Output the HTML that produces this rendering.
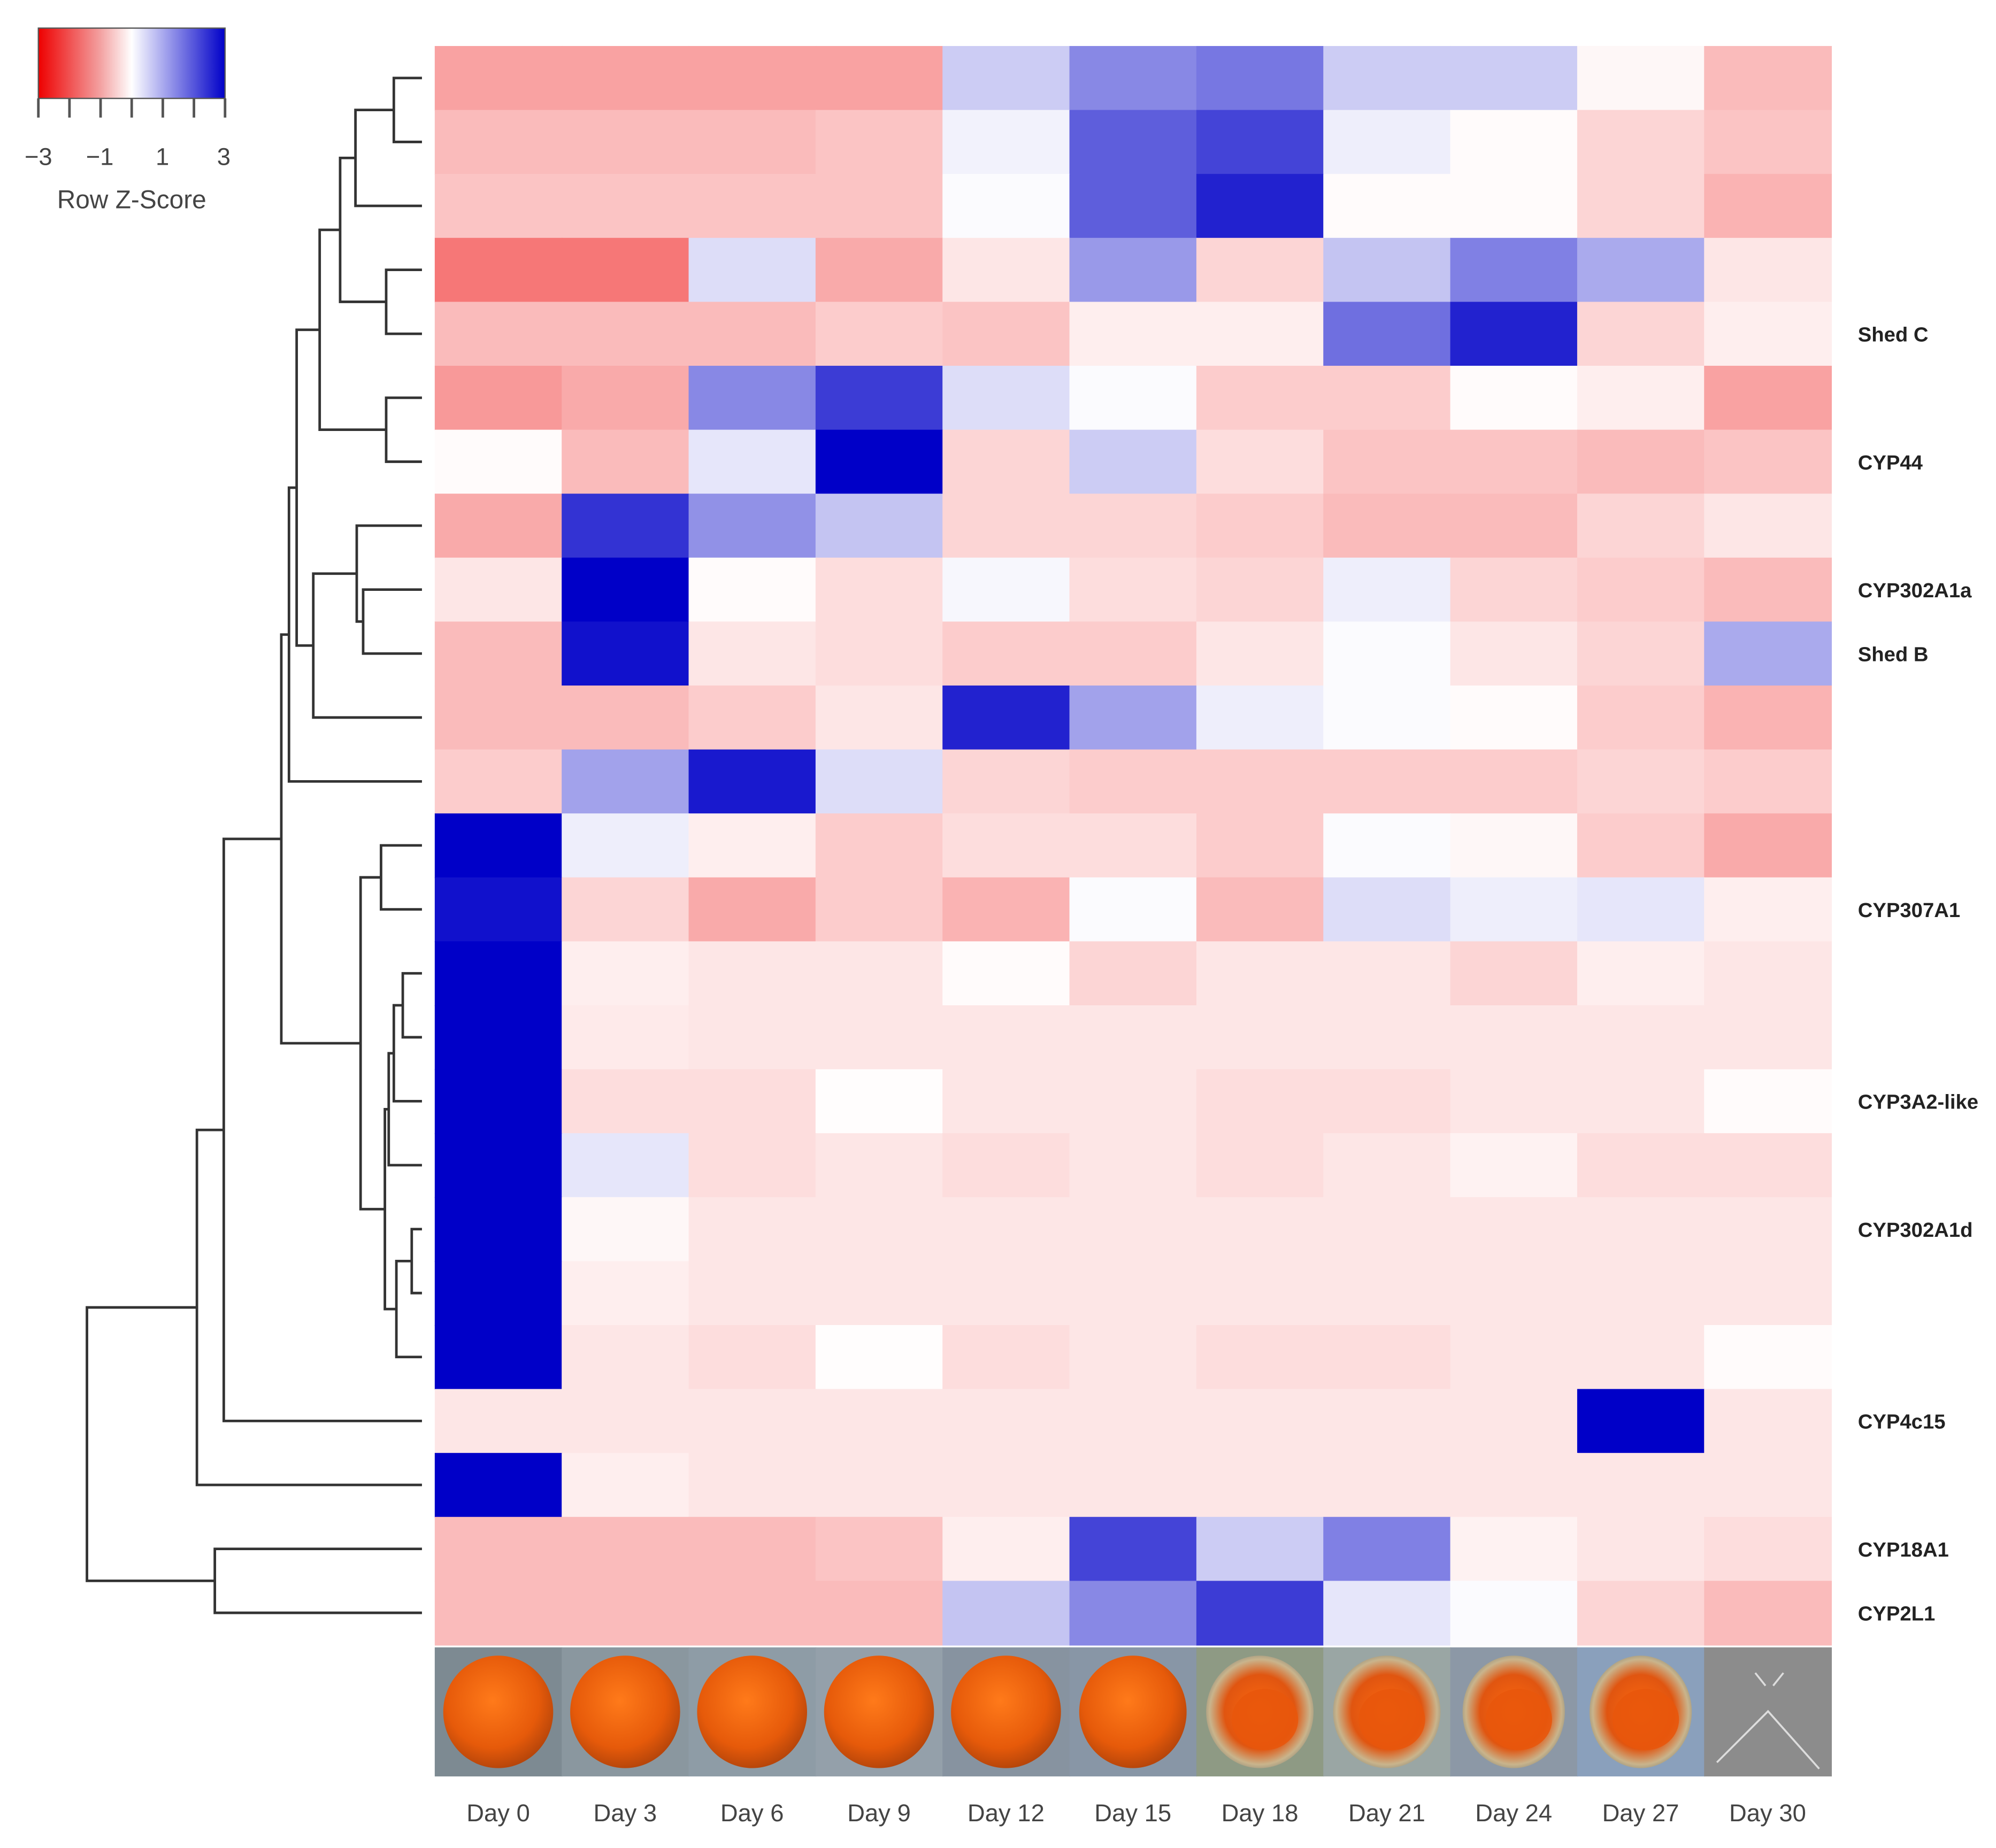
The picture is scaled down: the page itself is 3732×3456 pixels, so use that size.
<!DOCTYPE html>
<html><head><meta charset="utf-8">
<style>
html,body{margin:0;padding:0;background:#fff;}
svg{display:block;}
</style></head>
<body>
<svg id="chart" xmlns="http://www.w3.org/2000/svg" width="3732" height="3456" viewBox="0 0 1561 1446" preserveAspectRatio="none">
<defs>
<linearGradient id="zgrad" x1="0" x2="1" y1="0" y2="0">
<stop offset="0" stop-color="#ee0000"/>
<stop offset="0.33" stop-color="#f3a0a0"/>
<stop offset="0.5" stop-color="#ffffff"/>
<stop offset="0.67" stop-color="#a8a8ee"/>
<stop offset="1" stop-color="#0000c8"/>
</linearGradient>
<radialGradient id="egg" cx="0.45" cy="0.4" r="0.6">
<stop offset="0" stop-color="#ff7a1a"/>
<stop offset="0.7" stop-color="#e65a0a"/>
<stop offset="1" stop-color="#b8460a"/>
</radialGradient>
<radialGradient id="egg2" cx="0.5" cy="0.5" r="0.55">
<stop offset="0" stop-color="#ff6a10"/>
<stop offset="0.6" stop-color="#e05510"/>
<stop offset="0.85" stop-color="#c9b48c"/>
<stop offset="1" stop-color="#8a8a7a"/>
</radialGradient>
</defs>
<g id="legend">
<rect x="30" y="22" width="146" height="55" fill="url(#zgrad)" stroke="#555" stroke-width="1"/>
<g id="legticks" stroke="#555" stroke-width="2"></g>
<g font-family="Liberation Sans, sans-serif" font-size="19" fill="#444" text-anchor="middle">
<text x="30" y="129">−3</text>
<text x="78" y="129">−1</text>
<text x="127" y="129">1</text>
<text x="175" y="129">3</text>
<text x="103" y="163" font-size="20">Row Z-Score</text>
</g>
</g>
<g id="cells"></g>
<g id="dendro" stroke="#333" stroke-width="2" fill="none"></g>
<g id="photos"></g>
<g id="daylabels" font-family="Liberation Sans, sans-serif" font-size="19" fill="#444" text-anchor="middle"></g>
<g id="genelabels" font-family="Liberation Sans, sans-serif" font-size="16" font-weight="bold" fill="#222"></g>
</svg>
<script>
const days = ["Day 0","Day 3","Day 6","Day 9","Day 12","Day 15","Day 18","Day 21","Day 24","Day 27","Day 30"];
const geneLabels = ["","","","","Shed C","","CYP44","","CYP302A1a","Shed B","","","","CYP307A1","","","CYP3A2-like","","CYP302A1d","","","CYP4c15","","CYP18A1","CYP2L1"];
const zRows = [
[-1.1,-1.1,-1.1,-1.1,0.6,1.4,1.6,0.6,0.6,-0.1,-0.8],
[-0.8,-0.8,-0.8,-0.7,0.15,1.9,2.2,0.2,-0.05,-0.5,-0.7],
[-0.7,-0.7,-0.7,-0.7,0.05,1.9,2.6,-0.05,-0.05,-0.5,-0.9],
[-1.6,-1.6,0.4,-1.0,-0.3,1.2,-0.5,0.7,1.5,1.0,-0.3],
[-0.8,-0.8,-0.8,-0.6,-0.7,-0.2,-0.2,1.7,2.6,-0.5,-0.2],
[-1.2,-1.0,1.4,2.3,0.4,0.05,-0.6,-0.6,-0.05,-0.2,-1.1],
[-0.05,-0.8,0.3,3.0,-0.5,0.6,-0.4,-0.7,-0.7,-0.8,-0.7],
[-1.0,2.4,1.3,0.7,-0.5,-0.5,-0.6,-0.8,-0.8,-0.5,-0.3],
[-0.3,3.0,-0.05,-0.4,0.1,-0.4,-0.5,0.2,-0.5,-0.6,-0.8],
[-0.8,2.8,-0.3,-0.4,-0.6,-0.6,-0.3,0.05,-0.3,-0.5,1.0],
[-0.8,-0.8,-0.6,-0.3,2.6,1.1,0.2,0.05,-0.05,-0.6,-0.9],
[-0.6,1.1,2.7,0.4,-0.5,-0.6,-0.6,-0.6,-0.6,-0.5,-0.6],
[3.0,0.2,-0.2,-0.6,-0.4,-0.4,-0.6,0.05,-0.1,-0.6,-1.0],
[2.8,-0.5,-1.0,-0.6,-0.9,0.05,-0.8,0.4,0.2,0.3,-0.2],
[3.0,-0.2,-0.3,-0.3,-0.05,-0.5,-0.3,-0.3,-0.5,-0.2,-0.3],
[3.0,-0.25,-0.3,-0.3,-0.3,-0.3,-0.3,-0.3,-0.3,-0.3,-0.3],
[3.0,-0.4,-0.4,-0.02,-0.3,-0.3,-0.4,-0.4,-0.3,-0.3,-0.05],
[3.0,0.3,-0.4,-0.3,-0.4,-0.3,-0.4,-0.3,-0.15,-0.4,-0.4],
[3.0,-0.1,-0.3,-0.3,-0.3,-0.3,-0.3,-0.3,-0.3,-0.3,-0.3],
[3.0,-0.2,-0.3,-0.3,-0.3,-0.3,-0.3,-0.3,-0.3,-0.3,-0.3],
[3.0,-0.3,-0.4,-0.02,-0.4,-0.3,-0.4,-0.4,-0.3,-0.3,-0.05],
[-0.3,-0.3,-0.3,-0.3,-0.3,-0.3,-0.3,-0.3,-0.3,3.0,-0.3],
[3.0,-0.2,-0.3,-0.3,-0.3,-0.3,-0.3,-0.3,-0.3,-0.3,-0.3],
[-0.8,-0.8,-0.8,-0.7,-0.2,2.2,0.6,1.5,-0.15,-0.3,-0.4],
[-0.8,-0.8,-0.8,-0.8,0.7,1.4,2.3,0.3,0.05,-0.5,-0.8]
];
// dendrogram merges: [left, right, height(x)]; leaves are row indices, nodes referenced as "n<k>"
const merges = [
[0,1,308],["n0",2,278],[3,4,302],["n1","n2",266],[5,6,302],["n3","n4",250],
[8,9,284],[7,"n6",279],["n7",10,245],["n5","n8",232],["n9",11,226],
[12,13,298],[14,15,315],["n12",16,308],["n13",17,304],[18,19,322],["n15",20,310],["n14","n16",301],
["n11","n17",282],["n10","n18",220],["n19",21,175],["n20",22,154],
[23,24,168],["n21","n22",68]
];
const HX0=340, HX1=1432, HY0=36, HY1=1287;
const nCols=days.length, nRows=zRows.length;
const cw=(HX1-HX0)/nCols, rh=(HY1-HY0)/nRows;
function xCol(i){return HX0+i*cw;}
function yRow(i){return HY0+i*rh;}
function zColor(z){
  const t=Math.min(Math.abs(z)/3,1);
  let r,g,b;
  if(z>=0){r=255*(1-t);g=255*(1-t);b=255-55*t;}
  else{r=255-17*t;g=255*(1-t);b=255*(1-t);}
  return `rgb(${Math.round(r)},${Math.round(g)},${Math.round(b)})`;
}
const NS="http://www.w3.org/2000/svg";
function mk(tag,attrs,parent){const e=document.createElementNS(NS,tag);for(const k in attrs)e.setAttribute(k,attrs[k]);parent.appendChild(e);return e;}
// legend ticks
const lt=document.getElementById('legticks');
for(let i=0;i<7;i++){const x=30+i*146/6;const l=mk('line',{x1:x,x2:x,y1:77,y2:92},lt);

}
// cells
const cells=document.getElementById('cells');
zRows.forEach((row,ri)=>{row.forEach((z,ci)=>{
  const r=mk('rect',{x:xCol(ci),y:yRow(ri),width:cw+0.6,height:rh+0.6,fill:zColor(z)},cells);
  
  
});});
// dendrogram
const dg=document.getElementById('dendro');
const LEAFX=330;
const nodes=[];
function pos(ref){ if(typeof ref==='number') return {y:yRow(ref)+rh/2,x:LEAFX}; return nodes[parseInt(ref.slice(1))]; }
merges.forEach(m=>{
  const a=pos(m[0]), b=pos(m[1]), h=m[2];
  const p=mk('path',{d:`M${a.x},${a.y}H${h}V${b.y}H${b.x}`},dg);
  
  
  nodes.push({x:h,y:(a.y+b.y)/2});
});
// photos
const ph=document.getElementById('photos');
const bgs=["#7d8a92","#8a979f","#8e9ca6","#94a0aa","#8793a0","#8896a6","#8e9a84","#9aa6a4","#8c98a6","#8aa0bc","#8c8c8c"];
days.forEach((d,i)=>{
  const x=xCol(i), y=1289, h=101;
  const g=mk('g',{},ph);
  
  
  mk('rect',{x:x,y:y,width:cw+0.6,height:h,fill:bgs[i]},g);
  if(i<10){
    mk('ellipse',{cx:x+cw/2,cy:y+h/2,rx:i<5?43:i<8?42:40,ry:44,fill:i<6?'url(#egg)':'url(#egg2)'},g);
    if(i>=6) mk('ellipse',{cx:x+cw/2+4,cy:y+h/2+6,rx:26,ry:24,fill:'#e8560c',opacity:0.9},g);
  } else {
    mk('path',{d:`M${x+40},${y+20}l8,10M${x+62},${y+20}l-8,10M${x+10},${y+90}L${x+50},${y+50}L${x+90},${y+95}`,stroke:'#ddd','stroke-width':1.5,fill:'none'},g);
  }
});
// day labels
const dl=document.getElementById('daylabels');
days.forEach((d,i)=>{const t=mk('text',{x:xCol(i)+cw/2,y:1425},dl);t.textContent=d;

});
// gene labels
const gl=document.getElementById('genelabels');
geneLabels.forEach((g,i)=>{if(!g)return;const t=mk('text',{x:1453,y:yRow(i)+rh/2+6},gl);t.textContent=g;

});
</script>
</body></html>
